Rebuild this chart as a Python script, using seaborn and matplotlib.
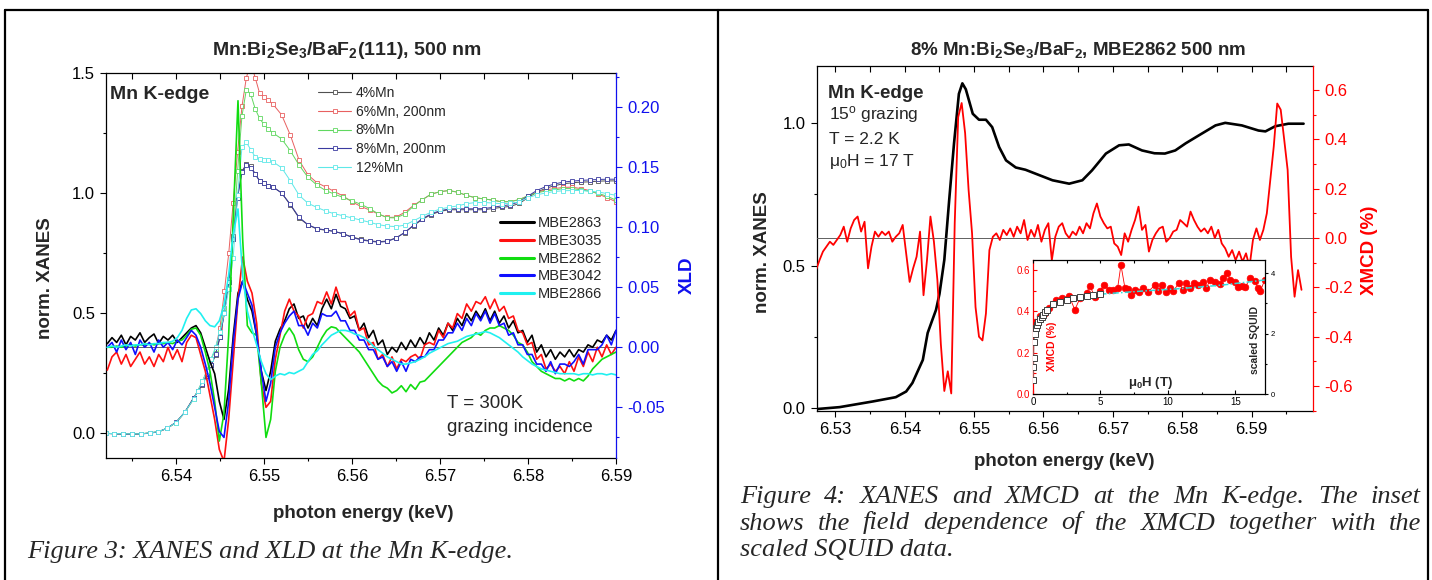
import numpy as np
import matplotlib
matplotlib.use("Agg")
import matplotlib.pyplot as plt
import seaborn as sns
from matplotlib.lines import Line2D
from matplotlib.ticker import MultipleLocator, FormatStrFormatter

# ---------------- left figure: XANES (left axis) and XLD (right axis), 300 K ----------------
xanes_e = [6.532, 6.533, 6.534, 6.535, 6.536, 6.537, 6.538, 6.539, 6.540, 6.541, 6.542,
           6.5425, 6.543, 6.5435, 6.544, 6.5445, 6.545, 6.5455, 6.546, 6.5465, 6.547, 6.5475,
           6.548, 6.5485, 6.549, 6.5495, 6.550, 6.5505, 6.551,
           6.552, 6.553, 6.554, 6.555, 6.556, 6.557, 6.558, 6.559, 6.560, 6.561, 6.562, 6.563,
           6.564, 6.565, 6.566, 6.567, 6.568, 6.569, 6.570, 6.571, 6.572, 6.573, 6.574, 6.575,
           6.576, 6.577, 6.578, 6.579, 6.580, 6.581, 6.582, 6.583, 6.584, 6.585, 6.586, 6.587,
           6.588, 6.589, 6.590]

xanes_4 = [0.0, -0.002, -0.003, -0.003, -0.003, 0.001, 0.006, 0.021, 0.045, 0.087, 0.148,
           0.176, 0.20, 0.24, 0.283, 0.325, 0.40, 0.50, 0.63, 0.82, 0.985, 1.09, 1.12, 1.11, 1.08,
           1.05, 1.04, 1.03, 1.025,
           1.00, 0.95, 0.895, 0.867, 0.85, 0.845, 0.84, 0.83, 0.817, 0.807, 0.801, 0.797, 0.80,
           0.813, 0.835, 0.864, 0.89, 0.91, 0.923, 0.93, 0.93, 0.93, 0.93, 0.93, 0.935, 0.94,
           0.944, 0.956, 0.98, 1.003, 1.019, 1.03, 1.038, 1.042, 1.045, 1.046, 1.049, 1.05, 1.05]
xanes_6 = [0.0, -0.001, -0.002, -0.002, -0.002, 0.002, 0.007, 0.021, 0.045, 0.087, 0.143,
           0.178, 0.216, 0.258, 0.31, 0.35, 0.44, 0.59, 0.75, 0.96, 1.17, 1.36, 1.48, 1.54, 1.48,
           1.415, 1.40, 1.385, 1.37,
           1.325, 1.24, 1.135, 1.075, 1.043, 1.025, 1.006, 0.987, 0.963, 0.944, 0.929, 0.912,
           0.898, 0.899, 0.92, 0.948, 0.972, 0.995, 1.005, 1.01, 1.003, 0.99, 0.98, 0.975, 0.97,
           0.963, 0.964, 0.972, 0.988, 1.002, 1.013, 1.018, 1.023, 1.024, 1.018, 1.01, 0.995,
           0.98, 0.963]
xanes_8 = [0.0, -0.001, -0.002, -0.002, -0.002, 0.002, 0.007, 0.021, 0.045, 0.087, 0.143,
           0.178, 0.216, 0.258, 0.31, 0.35, 0.42, 0.52, 0.64, 0.81, 1.09, 1.32, 1.43, 1.41, 1.35,
           1.31, 1.285, 1.265, 1.25,
           1.225, 1.175, 1.115, 1.065, 1.033, 1.01, 0.995, 0.981, 0.967, 0.953, 0.935, 0.913,
           0.897, 0.896, 0.912, 0.945, 0.972, 0.995, 1.005, 1.01, 1.003, 0.99, 0.98, 0.975, 0.97,
           0.963, 0.964, 0.972, 0.988, 1.0, 1.008, 1.012, 1.018, 1.018, 1.013, 1.007, 0.998,
           0.986, 0.97]
xanes_8b = [0.0, -0.002, -0.003, -0.003, -0.002, 0.001, 0.006, 0.022, 0.046, 0.088, 0.146,
            0.176, 0.205, 0.245, 0.285, 0.33, 0.40, 0.50, 0.63, 0.81, 0.98, 1.085, 1.115, 1.105,
            1.078, 1.05, 1.04, 1.03, 1.025,
            1.0, 0.952, 0.898, 0.868, 0.852, 0.846, 0.84, 0.83, 0.815, 0.805, 0.799, 0.795, 0.798,
            0.812, 0.836, 0.866, 0.893, 0.913, 0.926, 0.933, 0.934, 0.934, 0.934, 0.935, 0.94,
            0.946, 0.951, 0.963, 0.987, 1.01, 1.026, 1.037, 1.045, 1.049, 1.052, 1.054, 1.056,
            1.057, 1.057]
xanes_12 = [0.0, -0.001, -0.002, -0.002, -0.002, 0.002, 0.007, 0.021, 0.045, 0.087, 0.143,
            0.178, 0.216, 0.258, 0.308, 0.36, 0.42, 0.50, 0.60, 0.73, 0.99, 1.19, 1.21, 1.18,
            1.15, 1.14, 1.137, 1.135, 1.13,
            1.105, 1.05, 0.99, 0.957, 0.94, 0.925, 0.913, 0.905, 0.896, 0.887, 0.878, 0.868,
            0.862, 0.86, 0.866, 0.884, 0.903, 0.92, 0.933, 0.94, 0.946, 0.955, 0.96, 0.96, 0.958,
            0.955, 0.957, 0.963, 0.98, 0.992, 1.0, 1.006, 1.009, 1.01, 1.01, 1.007, 1.004, 0.997,
            0.99]
xanes_labels = ["4%Mn", "6%Mn, 200nm", "8%Mn", "8%Mn, 200nm", "12%Mn"]
xanes_colors = ["#505050", "#e86060", "#60d860", "#3a3aa0", "#5ee8e8"]

xld_e = np.linspace(6.5322, 6.5900, 110)
xld_2863 = [0.003, 0.008, 0.004, 0.010, 0.002, 0.009, 0.006, 0.012, 0.004, 0.008,
            0.011, 0.003, 0.009, 0.006, 0.010, 0.004, 0.008, 0.012, 0.016, 0.018,
            0.012, 0.000, -0.012, -0.022, -0.045, -0.060, -0.035, 0.010, 0.045, 0.055,
            0.040, 0.030, 0.010, -0.020, -0.036, -0.020, 0.005, 0.015, 0.022, 0.032,
            0.036, 0.024, 0.026, 0.016, 0.024, 0.018, 0.032, 0.040, 0.032, 0.044,
            0.034, 0.032, 0.024, 0.026, 0.014, 0.020, 0.008, 0.014, 0.002, 0.006,
            -0.006, 0.000, -0.004, 0.004, -0.002, 0.006, 0.000, 0.008, 0.002, 0.012,
            0.006, 0.016, 0.010, 0.020, 0.014, 0.024, 0.018, 0.028, 0.022, 0.030,
            0.024, 0.032, 0.022, 0.030, 0.020, 0.026, 0.016, 0.022, 0.012, 0.014,
            0.004, 0.010, -0.004, 0.002, -0.008, -0.002, -0.010, -0.004, -0.008, -0.002,
            -0.008, -0.002, -0.004, 0.002, 0.000, 0.006, 0.004, 0.010, 0.006, 0.014]
xld_3035 = [-0.019, -0.008, -0.004, -0.014, -0.006, -0.016, -0.010, -0.004, -0.014, -0.008,
            -0.016, -0.006, -0.012, 0.000, -0.010, -0.002, -0.012, 0.004, 0.010, 0.008,
            -0.006, -0.020, -0.040, -0.060, -0.085, -0.095, -0.060, -0.010, 0.040, 0.075,
            0.055, 0.045, 0.020, -0.030, -0.050, -0.045, -0.010, 0.010, 0.030, 0.040,
            0.030, 0.026, 0.016, 0.026, 0.028, 0.038, 0.036, 0.046, 0.036, 0.050,
            0.038, 0.038, 0.026, 0.030, 0.014, 0.016, 0.002, 0.004, -0.010, -0.006,
            -0.016, -0.008, -0.018, -0.010, -0.012, -0.008, -0.006, -0.010, 0.002, 0.004,
            0.002, 0.014, 0.008, 0.020, 0.016, 0.028, 0.024, 0.036, 0.030, 0.038,
            0.036, 0.042, 0.032, 0.040, 0.030, 0.034, 0.024, 0.026, 0.014, 0.012,
            0.002, 0.004, -0.010, -0.006, -0.018, -0.014, -0.020, -0.016, -0.022, -0.012,
            -0.020, -0.008, -0.016, -0.004, -0.012, 0.000, -0.008, 0.002, -0.006, 0.000]
xld_2862 = [0.000, 0.000, 0.001, 0.000, 0.001, 0.002, 0.001, 0.002, 0.002, 0.003,
            0.002, 0.003, 0.003, 0.004, 0.003, 0.005, 0.006, 0.010, 0.015, 0.016,
            0.010, -0.004, -0.020, -0.045, -0.078, -0.055, 0.010, 0.110, 0.205, 0.090,
            0.018, 0.012, 0.010, -0.030, -0.075, -0.060, -0.020, 0.000, 0.010, 0.016,
            0.010, -0.002, -0.010, -0.012, -0.008, 0.000, 0.008, 0.014, 0.017, 0.016,
            0.012, 0.008, 0.004, 0.000, -0.004, -0.010, -0.016, -0.022, -0.028, -0.032,
            -0.034, -0.038, -0.036, -0.032, -0.037, -0.031, -0.035, -0.029, -0.028, -0.024,
            -0.020, -0.016, -0.012, -0.008, -0.004, 0.000, 0.004, 0.006, 0.008, 0.012,
            0.010, 0.014, 0.016, 0.016, 0.018, 0.016, 0.014, 0.010, 0.004, 0.002,
            -0.004, -0.012, -0.016, -0.020, -0.022, -0.024, -0.026, -0.026, -0.028, -0.026,
            -0.028, -0.026, -0.028, -0.024, -0.018, -0.014, -0.010, -0.008, -0.006, -0.004]
xld_3042 = [0.000, 0.004, -0.004, 0.006, -0.002, 0.004, -0.006, 0.006, 0.000, 0.004,
            -0.004, 0.006, 0.000, 0.004, -0.002, 0.006, 0.002, 0.008, 0.014, 0.010,
            0.000, -0.014, -0.030, -0.050, -0.070, -0.075, -0.045, 0.005, 0.040, 0.055,
            0.045, 0.035, 0.010, -0.020, -0.045, -0.030, 0.000, 0.012, 0.020, 0.026,
            0.030, 0.018, 0.018, 0.010, 0.020, 0.016, 0.028, 0.026, 0.026, 0.030,
            0.022, 0.022, 0.014, 0.014, 0.006, 0.006, -0.002, -0.002, -0.010, -0.008,
            -0.016, -0.012, -0.020, -0.012, -0.020, -0.010, -0.012, -0.008, -0.008, -0.002,
            -0.002, 0.006, 0.006, 0.012, 0.012, 0.020, 0.014, 0.024, 0.018, 0.028,
            0.022, 0.030, 0.020, 0.028, 0.018, 0.020, 0.010, 0.012, 0.002, 0.002,
            -0.006, -0.006, -0.014, -0.014, -0.020, -0.012, -0.022, -0.014, -0.014, -0.016,
            -0.012, -0.006, -0.014, -0.002, -0.002, -0.002, 0.002, 0.010, 0.002, 0.014]
xld_2866 = [0.000, 0.001, 0.000, 0.001, 0.002, 0.001, 0.002, 0.002, 0.003, 0.002,
            0.003, 0.003, 0.004, 0.004, 0.005, 0.008, 0.014, 0.024, 0.031, 0.032,
            0.028, 0.022, 0.018, 0.017, 0.022, 0.035, 0.060, 0.095, 0.115, 0.060,
            0.030, 0.015, 0.002, -0.012, -0.022, -0.027, -0.024, -0.022, -0.023, -0.021,
            -0.022, -0.020, -0.018, -0.012, -0.006, -0.003, 0.002, 0.006, 0.010, 0.012,
            0.014, 0.014, 0.013, 0.011, 0.010, 0.008, 0.005, 0.001, -0.002, -0.005,
            -0.008, -0.010, -0.012, -0.014, -0.014, -0.013, -0.012, -0.010, -0.008, -0.005,
            -0.003, -0.001, 0.001, 0.003, 0.004, 0.005, 0.007, 0.009, 0.010, 0.011,
            0.012, 0.013, 0.012, 0.010, 0.008, 0.005, 0.002, -0.001, -0.004, -0.008,
            -0.011, -0.014, -0.016, -0.018, -0.019, -0.020, -0.021, -0.022, -0.022, -0.022,
            -0.022, -0.023, -0.022, -0.022, -0.023, -0.022, -0.022, -0.023, -0.022, -0.023]
xld_labels = ["MBE2863", "MBE3035", "MBE2862", "MBE3042", "MBE2866"]
xld_colors = ["#000000", "#ff1010", "#10dd10", "#1010ff", "#20f0f0"]

# ---------------- right figure: XANES and XMCD at 2.2 K, 17 T ----------------
xanes2_e = [6.5272, 6.5306, 6.5354, 6.5387, 6.5402, 6.5411, 6.5426, 6.5433, 6.5438, 6.5445,
            6.5450, 6.5457, 6.5464, 6.5471, 6.5478, 6.5483, 6.5488, 6.5498, 6.5507, 6.5517,
            6.5526, 6.5536, 6.5546, 6.5560, 6.5574, 6.5594, 6.5613, 6.5637, 6.5656, 6.5670,
            6.5690, 6.5709, 6.5723, 6.5742, 6.5760, 6.5775, 6.5790, 6.5805, 6.5824, 6.5848,
            6.5862, 6.5886, 6.5910, 6.5920, 6.5934, 6.5953, 6.5975]
xanes2 = [-0.005, 0.002, 0.022, 0.037, 0.057, 0.087, 0.168, 0.263, 0.297, 0.344,
          0.40, 0.52, 0.73, 0.93, 1.104, 1.141, 1.12, 1.034, 1.013, 1.013,
          0.987, 0.917, 0.87, 0.845, 0.837, 0.818, 0.80, 0.788, 0.80, 0.835,
          0.894, 0.923, 0.926, 0.905, 0.895, 0.894, 0.905, 0.93, 0.958, 0.993,
          1.002, 0.993, 0.975, 0.972, 0.99, 0.999, 0.999]

xmcd_e = np.linspace(6.5272, 6.5972, 141)
xmcd = [-0.13, -0.09, -0.055, -0.035, -0.015, -0.028, -0.008, 0.012, 0.046, -0.015,
        0.039, 0.073, 0.087, 0.026, 0.066, -0.123, -0.035, 0.026, 0.005, 0.026,
        0.012, 0.026, -0.015, 0.005, 0.019, 0.053, -0.062, -0.178, -0.123, -0.076,
        0.026, -0.232, -0.09, 0.087, -0.015, -0.17, -0.43, -0.62, -0.54, -0.63,
        0.06, 0.49, 0.547, 0.425, 0.195, 0.019, -0.28, -0.40, -0.415, -0.306,
        -0.049, 0.005, 0.019, -0.008, 0.033, 0.012, 0.039, 0.005, 0.046, 0.019,
        0.073, -0.008, 0.033, 0.005, 0.053, -0.015, 0.033, 0.06, -0.09, 0.005,
        0.046, 0.06, 0.019, 0.0, 0.026, 0.012, 0.046, 0.019, 0.06, 0.039,
        0.10, 0.14, 0.087, 0.06, 0.039, 0.046, -0.022, -0.035, -0.069, 0.019,
        -0.015, 0.033, 0.073, 0.127, 0.033, 0.053, -0.055, -0.008, 0.019, 0.039,
        0.046, -0.015, 0.0, 0.026, 0.033, 0.073, 0.06, 0.046, 0.107, 0.073,
        0.046, 0.026, 0.039, 0.019, 0.046, 0.0, 0.033, -0.022, -0.042, -0.076,
        -0.049, -0.09, -0.055, -0.096, -0.062, -0.117, -0.008, 0.039, -0.008, 0.033,
        0.10, 0.236, 0.371, 0.545, 0.52, 0.40, 0.276, -0.076, -0.238, -0.13, -0.21]

# inset: field dependence
inset_h = [0.05, 0.15, 0.52, 0.89, 1.21, 1.68, 2.17, 2.67, 3.1, 3.48, 3.97, 4.2, 4.6, 4.96,
           5.28, 5.65, 5.95, 6.27, 6.52, 6.81, 7.06, 7.3, 7.55, 7.85, 8.17, 8.54, 9.04, 9.28,
           9.58, 9.83, 10.15, 10.4, 10.81, 11.14, 11.38, 11.63, 11.93, 12.25, 12.62, 12.86,
           13.11, 13.48, 13.85, 14.1, 14.4, 14.64, 15.01, 15.21, 15.5, 15.75, 16.12, 16.44,
           16.69, 16.86, 17.18]
inset_xmcd = [0.33, 0.35, 0.377, 0.39, 0.418, 0.455, 0.463, 0.476, 0.407, 0.463, 0.487, 0.523,
              0.471, 0.498, 0.527, 0.503, 0.503, 0.511, 0.624, 0.515, 0.508, 0.479, 0.503,
              0.492, 0.515, 0.495, 0.527, 0.498, 0.527, 0.492, 0.515, 0.498, 0.535, 0.503,
              0.535, 0.511, 0.535, 0.527, 0.544, 0.511, 0.552, 0.54, 0.531, 0.56, 0.584, 0.552,
              0.544, 0.519, 0.524, 0.519, 0.56, 0.547, 0.511, 0.498, 0.552]
squid_h = [0.01, 0.03, 0.05, 0.07, 0.12, 0.2, 0.27, 0.4, 0.52, 0.64, 0.77, 0.89, 1.06, 1.5,
           2.0, 2.49, 2.99, 3.48, 3.97, 4.47, 4.96]
squid_s = [0.45, 0.9, 1.18, 1.73, 2.0, 2.17, 2.28, 2.39, 2.48, 2.56, 2.61, 2.70, 2.78, 2.96,
           3.03, 3.11, 3.16, 3.20, 3.24, 3.27, 3.30]
squid_fit_h = [5.0, 8.0, 11.1, 14.0, 17.2]
squid_fit_s = [3.30, 3.40, 3.49, 3.60, 3.77]

# ---------------- style ----------------
sns.set_style("ticks")
plt.rcParams.update({
    "font.family": ["Liberation Sans", "DejaVu Sans"],
    "mathtext.fontset": "custom",
    "mathtext.rm": "Liberation Sans",
    "mathtext.it": "Liberation Sans:italic",
    "mathtext.bf": "Liberation Sans:bold",
    "axes.unicode_minus": False,
    "axes.linewidth": 0.9,
    "axes.edgecolor": "black",
    "xtick.color": "black", "ytick.color": "black",
    "xtick.major.width": 0.8, "ytick.major.width": 0.8,
    "xtick.minor.width": 0.8, "ytick.minor.width": 0.8,
    "xtick.major.size": 4.5, "ytick.major.size": 4.5,
    "xtick.minor.size": 2.5, "ytick.minor.size": 2.5,
    "xtick.labelsize": 12, "ytick.labelsize": 12,
})

W, H = 1432, 580
fig = plt.figure(figsize=(W / 100, H / 100), dpi=100)
blue = "#1010ee"
red = "#ff0000"


def box(l, t, r, b):
    return [l / W, 1 - b / H, (r - l) / W, (b - t) / H]


def ftext(px, py, s, **kw):
    return fig.text(px / W, 1 - py / H, s, **kw)


def top_ticks(twin, length):
    # inward ticks along the top spine, drawn by the twin axis
    twin.xaxis.set_visible(True)
    twin.tick_params(axis="x", which="both", top=True, bottom=False, labeltop=False,
                     labelbottom=False, direction="in", length=length)


# ---- left panel ----
ax1 = fig.add_axes(box(106, 72.7, 616, 458))
ax2 = ax1.twinx()
for vals, col in zip([xanes_4, xanes_6, xanes_8, xanes_8b, xanes_12], xanes_colors):
    sns.lineplot(x=xanes_e, y=vals, ax=ax1, color=col, lw=0.7, marker="s", markersize=2.2,
                 markerfacecolor="white", markeredgecolor=col, markeredgewidth=0.6,
                 sort=False, estimator=None)
ax2.axhline(0, color="#606060", lw=0.7, zorder=0.5)
for vals, col in zip([xld_2863, xld_3035, xld_2862, xld_3042, xld_2866], xld_colors):
    sns.lineplot(x=xld_e, y=vals, ax=ax2, color=col, lw=1.2, sort=False, estimator=None)

ax1.set_xlim(6.53205, 6.59)
ax1.set_ylim(-0.1025, 1.5)
ax2.set_ylim(-0.0921, 0.2283)
ax1.xaxis.set_major_locator(MultipleLocator(0.01))
ax1.xaxis.set_minor_locator(MultipleLocator(0.005))
ax1.xaxis.set_major_formatter(FormatStrFormatter("%.2f"))
ax1.yaxis.set_major_locator(MultipleLocator(0.5))
ax1.yaxis.set_minor_locator(MultipleLocator(0.25))
ax1.yaxis.set_major_formatter(FormatStrFormatter("%.1f"))
ax1.tick_params(which="both", direction="out", top=False, right=False)
ax1.spines["right"].set_visible(False)
ax2.yaxis.set_major_locator(MultipleLocator(0.05))
ax2.yaxis.set_minor_locator(MultipleLocator(0.025))
ax2.yaxis.set_major_formatter(FormatStrFormatter("%.2f"))
ax2.tick_params(axis="y", which="both", direction="out", colors=blue)
ax2.spines["right"].set_color(blue)
for s in ["left", "top", "bottom"]:
    ax2.spines[s].set_visible(False)
top_ticks(ax2, 4)
for a in (ax1, ax2):
    a.set_xlabel("")
    a.set_ylabel("")

h1 = [Line2D([], [], color=c, lw=0.8, marker="s", markersize=2.6, markerfacecolor="white",
             markeredgecolor=c, markeredgewidth=0.6) for c in xanes_colors]
leg1 = ax2.legend(h1, xanes_labels, loc="upper left", bbox_to_anchor=(0.4157, 0.9655),
                  frameon=False, fontsize=10, borderpad=0, borderaxespad=0,
                  handlelength=2.4, handletextpad=0.3, labelspacing=0.34)
ax2.add_artist(leg1)
h2 = [Line2D([], [], color=c, lw=2.2) for c in xld_colors]
ax2.legend(h2, xld_labels, loc="upper left", bbox_to_anchor=(0.7725, 0.628),
           frameon=False, fontsize=10.5, borderpad=0, borderaxespad=0,
           handlelength=2.3, handletextpad=0.3, labelspacing=0.26)

ftext(346.5, 55, r"Mn:Bi$_\mathbf{2}$Se$_\mathbf{3}$/BaF$_\mathbf{2}$(111), 500 nm",
      ha="center", va="baseline", fontsize=14, fontweight="bold")
ftext(110, 99, "Mn K-edge", ha="left", va="baseline", fontsize=14, fontweight="bold")
ftext(447, 408, "T = 300K", ha="left", va="baseline", fontsize=13.5)
ftext(447, 432, "grazing incidence", ha="left", va="baseline", fontsize=13.5)
ftext(46, 278, "norm. XANES", rotation=90, ha="center", va="center", fontsize=13.5,
      fontweight="bold")
ftext(363, 513, "photon energy (keV)", ha="center", va="center", fontsize=13.5,
      fontweight="bold")
ftext(687, 275, "XLD", rotation=90, ha="center", va="center", fontsize=13.5,
      fontweight="bold", color=blue)

# ---- right panel ----
ax3 = fig.add_axes(box(816.7, 66, 1313.3, 411))
ax4 = ax3.twinx()
sns.lineplot(x=xanes2_e, y=xanes2, ax=ax3, color="black", lw=1.9, sort=False, estimator=None)
ax4.axhline(0, color="#606060", lw=0.7, zorder=0.5)
sns.lineplot(x=xmcd_e, y=xmcd, ax=ax4, color=red, lw=1.3, sort=False, estimator=None)

ax3.set_xlim(6.5273, 6.5989)
ax3.set_ylim(-0.0116, 1.202)
ax4.set_ylim(-0.701, 0.697)
ax3.xaxis.set_major_locator(MultipleLocator(0.01))
ax3.xaxis.set_minor_locator(MultipleLocator(0.005))
ax3.xaxis.set_major_formatter(FormatStrFormatter("%.2f"))
ax3.yaxis.set_major_locator(MultipleLocator(0.5))
ax3.yaxis.set_minor_locator(MultipleLocator(0.25))
ax3.yaxis.set_major_formatter(FormatStrFormatter("%.1f"))
ax3.tick_params(which="both", direction="out", top=False, right=False)
ax3.spines["right"].set_visible(False)
ax4.yaxis.set_major_locator(MultipleLocator(0.2))
ax4.yaxis.set_minor_locator(MultipleLocator(0.1))
ax4.yaxis.set_major_formatter(FormatStrFormatter("%.1f"))
ax4.tick_params(axis="y", which="both", direction="out", colors=red)
ax4.spines["right"].set_color(red)
for s in ["left", "top", "bottom"]:
    ax4.spines[s].set_visible(False)
top_ticks(ax4, 4)
for a in (ax3, ax4):
    a.set_xlabel("")
    a.set_ylabel("")

ftext(1078.5, 54.5, r"8% Mn:Bi$_\mathbf{2}$Se$_\mathbf{3}$/BaF$_\mathbf{2}$, MBE2862 500 nm",
      ha="center", va="baseline", fontsize=13.5, fontweight="bold")
ftext(828, 98, "Mn K-edge", ha="left", va="baseline", fontsize=13.5, fontweight="bold")
ftext(829, 119.5, r"15$^\mathrm{o}$ grazing", ha="left", va="baseline", fontsize=12.5)
ftext(829, 144, "T = 2.2 K", ha="left", va="baseline", fontsize=12.5)
ftext(829, 166, r"μ$_\mathrm{0}$H = 17 T", ha="left", va="baseline", fontsize=12.5)
ftext(763, 252, "norm. XANES", rotation=90, ha="center", va="center", fontsize=13.5,
      fontweight="bold")
ftext(1064, 462, "photon energy (keV)", ha="center", va="center", fontsize=13.5,
      fontweight="bold")
ftext(1370, 250, "XMCD (%)", rotation=90, ha="center", va="center", fontsize=13.5,
      fontweight="bold", color=red)

# ---- inset ----
ax5 = fig.add_axes(box(1033, 260, 1265, 394))
ax5.set_facecolor("white")
ax6 = ax5.twinx()
sns.lineplot(x=inset_h, y=inset_xmcd, ax=ax5, color=red, lw=0.6, marker="o", markersize=4.8,
             markerfacecolor=red, markeredgecolor=red, markeredgewidth=0.5,
             sort=False, estimator=None)
sns.lineplot(x=squid_fit_h, y=squid_fit_s, ax=ax6, color="#30dcdc", lw=1.1,
             linestyle=(0, (4, 1.5, 1, 1.5)), sort=False, estimator=None)
sns.lineplot(x=squid_h, y=squid_s, ax=ax6, color="#808080", lw=0.6, marker="s",
             markersize=4.2, markerfacecolor="white", markeredgecolor="#404040",
             markeredgewidth=0.7, sort=False, estimator=None)
ax5.set_xlim(0, 17.2)
ax5.set_ylim(0, 0.648)
ax6.set_ylim(0, 4.43)
ax5.xaxis.set_major_locator(MultipleLocator(5))
ax5.xaxis.set_minor_locator(MultipleLocator(2.5))
ax5.xaxis.set_major_formatter(FormatStrFormatter("%d"))
ax5.yaxis.set_major_locator(MultipleLocator(0.2))
ax5.yaxis.set_minor_locator(MultipleLocator(0.1))
ax5.yaxis.set_major_formatter(FormatStrFormatter("%.1f"))
ax5.tick_params(which="both", direction="in", labelsize=7, pad=2, top=False, right=False)
ax5.tick_params(which="major", length=3)
ax5.tick_params(which="minor", length=1.8)
ax5.tick_params(axis="y", which="both", colors=red)
ax5.spines["left"].set_color(red)
ax5.spines["right"].set_visible(False)
ax6.yaxis.set_major_locator(MultipleLocator(2))
ax6.yaxis.set_minor_locator(MultipleLocator(1))
ax6.yaxis.set_major_formatter(FormatStrFormatter("%d"))
ax6.tick_params(axis="y", which="both", direction="out", labelsize=5.5, pad=1.5)
ax6.tick_params(axis="y", which="major", length=2.5)
ax6.tick_params(axis="y", which="minor", length=1.5)
for s in ["left", "top", "bottom"]:
    ax6.spines[s].set_visible(False)
top_ticks(ax6, 2.5)
for a in (ax5, ax6):
    a.set_xlabel("")
    a.set_ylabel("")

ftext(1052, 346, "XMCD (%)", rotation=90, ha="center", va="center", fontsize=7.5,
      fontweight="bold", color=red)
ftext(1151, 383, r"μ$_\mathbf{0}$H (T)", ha="center", va="center", fontsize=9.5,
      fontweight="bold")
ftext(1255, 340, "scaled SQUID", rotation=90, ha="center", va="center", fontsize=7.5,
      fontweight="bold")

# ---- page frame and captions ----
for xs, ys in [((5, 1428), (10, 10)), ((5, 5), (10, 580)), ((718, 718), (10, 580)),
               ((1428, 1428), (10, 580))]:
    fig.add_artist(Line2D([x / W for x in xs], [1 - y / H for y in ys], color="black",
                          lw=1.6))

cap_kw = dict(family="Liberation Serif", style="italic", fontsize=19, va="baseline")
ftext(27, 558, "Figure 3: XANES and XLD at the Mn K-edge.", ha="left", **cap_kw)


def justify(line, left, right, py):
    r = fig.canvas.get_renderer()
    words = line.split()
    items = [ftext(left, py, w, ha="left", **cap_kw) for w in words]
    widths = [t.get_window_extent(renderer=r).width for t in items]
    gap = (right - left - sum(widths)) / (len(words) - 1)
    x = left
    for t, w in zip(items, widths):
        t.set_x(x / W)
        x += w + gap


justify("Figure 4: XANES and XMCD at the Mn K-edge. The inset", 740, 1421, 503)
justify("shows the field dependence of the XMCD together with the", 740, 1421, 529.5)
ftext(740, 556, "scaled SQUID data.", ha="left", **cap_kw)

fig.savefig("out.png", dpi=100)
